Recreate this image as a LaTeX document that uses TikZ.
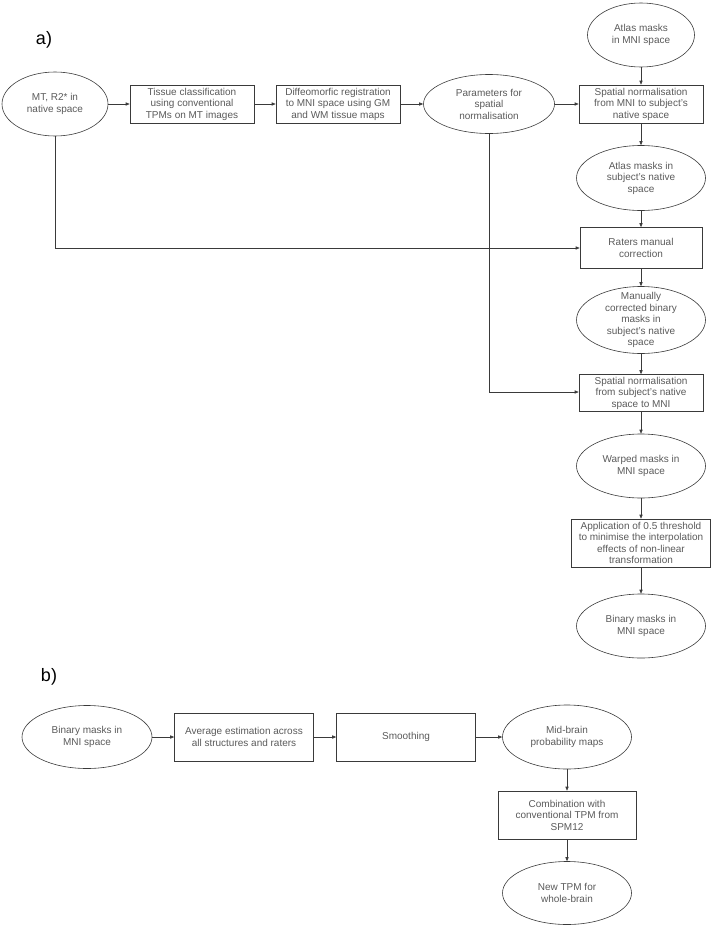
\documentclass[tikz,border=0pt]{standalone}
\usepackage{fontspec}
\setmainfont{Liberation Sans}
\usetikzlibrary{shapes.geometric,arrows.meta}
\definecolor{txtgray}{HTML}{5A5A5A}
\definecolor{linegray}{HTML}{3A3A3A}
\begin{document}
\begin{tikzpicture}[x=1pt,y=-1pt,
  every node/.style={font=\fontsize{10}{11.5}\selectfont, text=txtgray},
  ell/.style={draw=linegray, line width=0.6pt, ellipse, minimum width=#1, minimum height=64, inner sep=0pt},
  ell/.default=129,
  etext/.style={align=center, inner sep=0pt},
  boxn/.style={draw=linegray, line width=0.6pt, rectangle, minimum width=124, minimum height=38, inner sep=1pt, align=center},
  wbox/.style={boxn, minimum width=139, minimum height=48},
  conn/.style={draw=linegray, line width=0.6pt, -{Triangle[length=4pt,width=3.2pt]}},
  panel/.style={font=\fontsize{18}{20}\selectfont, text=black}
]
\useasboundingbox (0,0) rectangle (711,926);

% panel a
\node[panel] (la) at (44,40) {a)};

\node[ell=106] (mt) at (55,104) {};
\node[etext] (mtt) at (mt.center) {MT, R2* in\\native space};

\node[boxn] (tis) at (192,104) {Tissue classification\\using conventional\\TPMs on MT images};
\node[boxn] (dif) at (338,104) {Diffeomorfic registration\\to MNI space using GM\\and WM tissue maps};

\node[ell=131, minimum height=59] (par) at (489,104) {};
\node[etext] (part) at (par.center) {Parameters for\\spatial\\normalisation};

\node[boxn] (sn1) at (641,104) {Spatial normalisation\\from MNI to subject's\\native space};

\node[ell=107] (atl) at (641,35) {};
\node[etext] (atlt) at (atl.center) {Atlas masks\\in MNI space};

\node[ell, minimum height=65] (atn) at (641,178) {};
\node[etext] (atnt) at (atn.center) {Atlas masks in\\subject's native\\space};

\node[boxn, minimum width=122, minimum height=41] (rat) at (641,248) {Raters manual\\correction};

\node[ell, minimum height=67] (man) at (641,320) {};
\node[etext] (mant) at (man.center) {Manually\\corrected binary\\masks in\\subject's native\\space};

\node[boxn, minimum height=37] (sn2) at (641,393) {Spatial normalisation\\from subject's native\\space to MNI};

\node[ell] (war) at (641,466) {};
\node[etext] (wart) at (war.center) {Warped masks in\\MNI space};

\node[wbox] (thr) at (641,543) {Application of 0.5 threshold\\to minimise the interpolation\\effects of non-linear\\transformation};

\node[ell] (bin) at (641,626) {};
\node[etext] (bint) at (bin.center) {Binary masks in\\MNI space};

\draw[conn] (mt) -- (tis);
\draw[conn] (tis) -- (dif);
\draw[conn] (dif) -- (par);
\draw[conn] (par) -- (sn1);
\draw[conn] (atl) -- (sn1);
\draw[conn] (sn1) -- (atn);
\draw[conn] (atn) -- (rat);
\draw[conn] (rat) -- (man);
\draw[conn] (man) -- (sn2);
\draw[conn] (sn2) -- (war);
\draw[conn] (war) -- (thr);
\draw[conn] (thr) -- (bin);
\draw[conn] (mt.south) |- (rat.west);
\draw[conn] (par.south) |- ([yshift=1pt]sn2.west);

% panel b
\node[panel] (lb) at (49,677) {b)};

\node[ell=130, minimum height=63] (binb) at (87,737) {};
\node[etext] (binbt) at (binb.center) {Binary masks in\\MNI space};

\node[wbox] (avg) at (244,737) {Average estimation across\\all structures and raters};
\node[wbox] (smo) at (406,737) {Smoothing};

\node[ell] (mid) at (567,737) {};
\node[etext] (midt) at (mid.center) {Mid-brain\\probability maps};

\node[wbox, minimum width=138] (com) at (567,815) {Combination with\\conventional TPM from\\SPM12};

\node[ell, minimum height=63] (new) at (567,893) {};
\node[etext] (newt) at (new.center) {New TPM for\\whole-brain};

\draw[conn] (binb) -- (avg);
\draw[conn] (avg) -- (smo);
\draw[conn] (smo) -- (mid);
\draw[conn] (mid) -- (com);
\draw[conn] (com) -- (new);
\end{tikzpicture}
\end{document}
